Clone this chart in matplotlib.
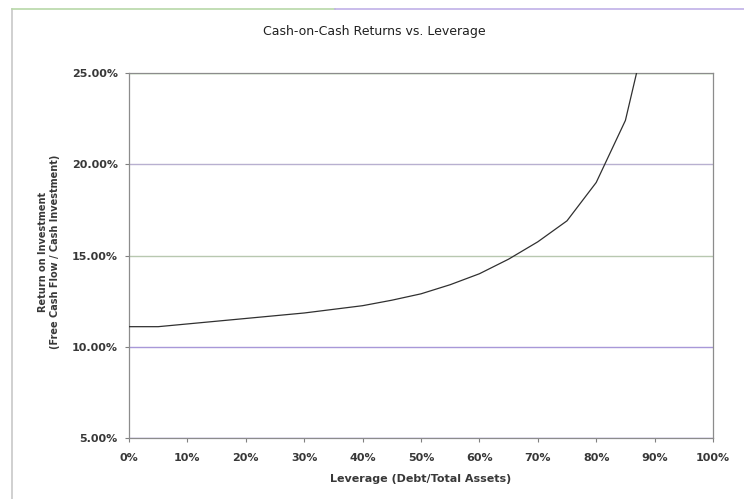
import matplotlib.pyplot as plt
from matplotlib.lines import Line2D
from matplotlib.ticker import FuncFormatter

plt.rcParams['font.family'] = ['DejaVu Sans']

# leverage (debt / total assets) and resulting cash-on-cash return, in %
leverage = [0, 5, 10, 15, 20, 25, 30, 35, 40, 45, 50, 55, 60, 65, 70, 75, 80, 85, 90]
coc_return = [11.1, 11.1, 11.25, 11.4, 11.55, 11.7, 11.85, 12.05, 12.25, 12.55,
              12.9, 13.4, 14.0, 14.8, 15.75, 16.9, 19.0, 22.4, 29.2]

y_ticks = [5, 10, 15, 20, 25]
x_ticks = [0, 10, 20, 30, 40, 50, 60, 70, 80, 90, 100]

fig = plt.figure(figsize=(7.44, 4.99), dpi=100)
ax = fig.add_axes([129 / 744, 1 - 438 / 499, 584 / 744, 365 / 499])

# chart frame around everything
fig.add_artist(Line2D([12 / 744, 12 / 744], [1 - 9 / 499, 0], transform=fig.transFigure,
                      color='#c8c8c8', lw=1.2))
fig.add_artist(Line2D([12 / 744, 0.45], [1 - 9 / 499] * 2, transform=fig.transFigure,
                      color='#b8d8a8', lw=1.2))
fig.add_artist(Line2D([0.45, 1], [1 - 9 / 499] * 2, transform=fig.transFigure,
                      color='#c0b0e8', lw=1.2))

grid_colors = ['#a890e0', '#a898d8', '#b8c8b0', '#b8b0d0', '#98d088']
for v, c in zip(y_ticks, grid_colors):
    ax.axhline(v, color=c, lw=1.0, zorder=1)

ax.plot(leverage, coc_return, color='#303030', lw=0.9, zorder=3)

ax.set_xlim(0, 100)
ax.set_ylim(5, 25)
ax.set_xticks(x_ticks)
ax.set_yticks(y_ticks)
ax.xaxis.set_major_formatter(FuncFormatter(lambda v, p: f'{v:.0f}%'))
ax.yaxis.set_major_formatter(FuncFormatter(lambda v, p: f'{v:.2f}%'))
ax.tick_params(direction='out', length=3, width=0.8, color='#808080',
               labelsize=8, labelcolor='#383838')
ax.tick_params(axis='x', pad=8)
ax.tick_params(axis='y', pad=5)
for lbl in ax.get_xticklabels() + ax.get_yticklabels():
    lbl.set_fontweight('bold')

for side in ['left', 'right', 'top', 'bottom']:
    ax.spines[side].set_color('#8c8c8c')
    ax.spines[side].set_linewidth(0.9)

fig.text(421 / 744, 1 - 479 / 499, 'Leverage (Debt/Total Assets)', ha='center',
         va='center', fontsize=8, fontweight='bold', color='#383838')
fig.text(49 / 744, 1 - 252 / 499, 'Return on Investment\n(Free Cash Flow / Cash Investment)',
         ha='center', va='center', rotation=90, fontsize=7, fontweight='bold',
         color='#383838', linespacing=1.35, multialignment='center')
fig.text(374 / 744, 1 - 32 / 499, 'Cash-on-Cash Returns vs. Leverage', ha='center',
         va='center', fontsize=9, color='#202020')

fig.savefig('out.png', dpi=100)
